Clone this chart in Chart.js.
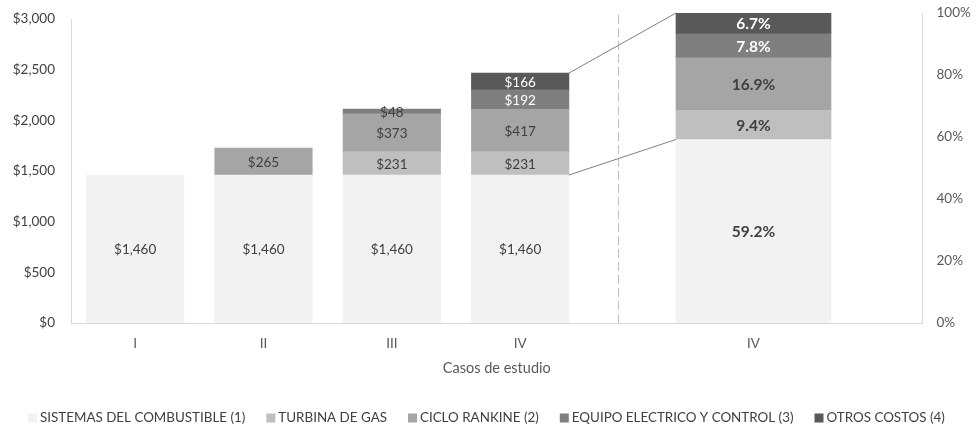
<!DOCTYPE html>
<html>
<head>
<meta charset="utf-8">
<script src="https://cdn.jsdelivr.net/npm/chart.js@4.4.1/dist/chart.umd.min.js"></script>
<style>
  html, body { margin: 0; padding: 0; background: #ffffff; }
  #wrap { width: 977px; height: 430px; }
</style>
</head>
<body>
<div id="wrap"><canvas id="c" width="977" height="430"></canvas></div>
<script>
// ---- data ----
const categories = ['I', 'II', 'III', 'IV'];
const detailCategory = 'IV';
const seriesNames = [
  'SISTEMAS DEL COMBUSTIBLE (1)',
  'TURBINA DE GAS',
  'CICLO RANKINE (2)',
  'EQUIPO ELECTRICO Y CONTROL (3)',
  'OTROS COSTOS (4)'
];
const combustible = [1460, 1460, 1460, 1460];
const turbina     = [null, null, 231, 231];
const rankine     = [null, 265, 373, 417];
const equipo      = [null, null, 48, 192];
const otros       = [null, null, null, 166];
const shareIV     = [59.2, 9.4, 16.9, 7.8, 6.7];   // % breakdown of case IV
const costTicks   = [0, 500, 1000, 1500, 2000, 2500, 3000];
const shareTicks  = [0, 20, 40, 60, 80, 100];
const axisTitle   = 'Casos de estudio';

// ---- layout & style ----
const FONT = 'Lato, "Open Sans", sans-serif';
const seriesColors = ['#f2f2f2', '#bfbfbf', '#a5a5a5', '#7f7f7f', '#595959'];
const labelColors  = ['#404040', '#404040', '#404040', '#ffffff', '#ffffff'];
const slotX    = [1, 2, 3, 4];     // positions of the case bars on the x scale
const detailX  = 5.818;            // position of the percentage bar
const dividerX = 4.759;            // dashed separator
const X_MIN = 0.5, X_MAX = 7.135;
const COST_MAX = 3059;

const costSeries = [combustible, turbina, rankine, equipo, otros];
const datasets = [];
costSeries.forEach((vals, s) => {
  datasets.push({
    label: seriesNames[s], kind: 'cost', series: s,
    data: vals.map((v, i) => ({ x: slotX[i], y: v })),
    backgroundColor: seriesColors[s],
    xAxisID: 'x', yAxisID: 'y', stack: 'all',
    barThickness: 97.5, borderWidth: 0
  });
});
shareIV.forEach((v, s) => {
  datasets.push({
    label: seriesNames[s], kind: 'share', series: s,
    data: [{ x: detailX, y: v }],
    backgroundColor: seriesColors[s],
    xAxisID: 'x', yAxisID: 'y2', stack: 'all',
    barThickness: 155, borderWidth: 0
  });
});

const fmtCost = v => '$' + v.toLocaleString('en-US');
const fmtShare = v => v.toFixed(1) + '%';

// separator + connector lines between case IV and its breakdown
const guidePlugin = {
  id: 'guides',
  afterDatasetsDraw(chart) {
    const { ctx, chartArea, scales } = chart;
    const xs = scales.x.getPixelForValue(dividerX);
    ctx.save();
    ctx.strokeStyle = '#bfbfbf';
    ctx.lineWidth = 1;
    ctx.setLineDash([9, 4]);
    ctx.beginPath();
    ctx.moveTo(Math.round(xs) + 0.5, chartArea.top + 2);
    ctx.lineTo(Math.round(xs) + 0.5, chartArea.bottom);
    ctx.stroke();
    ctx.setLineDash([]);

    // left cost axis line, up to the top tick
    const yScale = scales.y;
    ctx.strokeStyle = '#d9d9d9';
    ctx.beginPath();
    ctx.moveTo(chartArea.left + 0.5, yScale.getPixelForValue(costTicks[costTicks.length - 1]));
    ctx.lineTo(chartArea.left + 0.5, chartArea.bottom);
    ctx.stroke();

    const last = slotX.length - 1;
    const topCost = chart.getDatasetMeta(4).data[last];
    const baseCost = chart.getDatasetMeta(0).data[last];
    const topShare = chart.getDatasetMeta(9).data[0];
    const baseShare = chart.getDatasetMeta(5).data[0];
    ctx.strokeStyle = '#7f7f7f';
    ctx.lineWidth = 1;
    ctx.beginPath();
    ctx.moveTo(topCost.x + topCost.width / 2, topCost.y);
    ctx.lineTo(topShare.x - topShare.width / 2, topShare.y);
    ctx.moveTo(baseCost.x + baseCost.width / 2, baseCost.y);
    ctx.lineTo(baseShare.x - baseShare.width / 2, baseShare.y);
    ctx.stroke();
    ctx.restore();
  }
};

// values written in the middle of each segment
const valueLabelPlugin = {
  id: 'valueLabels',
  afterDatasetsDraw(chart) {
    const { ctx } = chart;
    ctx.save();
    ctx.textAlign = 'center';
    ctx.textBaseline = 'middle';
    chart.data.datasets.forEach((ds, i) => {
      const meta = chart.getDatasetMeta(i);
      meta.data.forEach((el, j) => {
        const v = ds.data[j].y;
        if (v === null || v === undefined) return;
        const h = Math.abs(el.base - el.y);
        const cy = (el.y + el.base) / 2;
        // labels that spill out of a thin segment stay dark so they read on white
        ctx.fillStyle = h < 12 ? '#404040' : labelColors[ds.series];
        if (ds.kind === 'cost') {
          ctx.font = '13.5px ' + FONT;
          ctx.fillText(fmtCost(v), el.x, cy + 1);
        } else {
          ctx.font = 'bold 15.5px ' + FONT;
          ctx.fillText(fmtShare(v), el.x, cy + 1);
        }
      });
    });
    ctx.restore();
  }
};

// legend row along the bottom
const legendPlugin = {
  id: 'bottomLegend',
  afterDraw(chart) {
    const { ctx } = chart;
    const box = 9, gapBox = 3, gapItem = 21, cy = 418;
    ctx.save();
    ctx.font = '13.4px ' + FONT;
    ctx.textBaseline = 'middle';
    ctx.textAlign = 'left';
    const widths = seriesNames.map(n => ctx.measureText(n).width);
    const total = widths.reduce((a, w) => a + box + gapBox + w, 0) + gapItem * (seriesNames.length - 1);
    let x = 486.5 - total / 2;
    seriesNames.forEach((n, i) => {
      ctx.fillStyle = seriesColors[i];
      ctx.fillRect(x, cy - box / 2, box, box);
      x += box + gapBox;
      ctx.fillStyle = '#404040';
      ctx.fillText(n, x, cy);
      x += widths[i] + gapItem;
    });
    ctx.restore();
  }
};

// vertical axes: fixed widths and no extra label margin above/below the plot
const fitVertical = w => s => { s.width = w; s.paddingTop = 0; s.paddingBottom = 0; };

new Chart(document.getElementById('c'), {
  type: 'bar',
  data: { datasets },
  options: {
    responsive: false,
    devicePixelRatio: 1,
    animation: false,
    layout: { padding: { top: 13, bottom: 52.6, left: 0, right: 0 } },
    plugins: { legend: { display: false }, tooltip: { enabled: false } },
    scales: {
      x: {
        type: 'linear', position: 'bottom', min: X_MIN, max: X_MAX, offset: false,
        stacked: true,
        grid: { display: false, drawTicks: false, offset: false },
        border: { display: true, color: '#d9d9d9', width: 1 },
        afterBuildTicks: s => { s.ticks = slotX.concat([detailX]).map(v => ({ value: v })); },
        afterFit: s => { s.height = 54.4; s.paddingLeft = 0; s.paddingRight = 0; },
        ticks: {
          autoSkip: false, maxRotation: 0, padding: 13,
          color: '#595959', font: { family: FONT, size: 13.5 },
          callback: (v, i) => (i < categories.length ? categories[i] : detailCategory)
        },
        title: {
          display: true, text: axisTitle, color: '#595959',
          font: { family: FONT, size: 14.5 }, padding: { top: 0, bottom: 0 }
        }
      },
      y: {
        type: 'linear', position: 'left', min: 0, max: COST_MAX, stacked: true, bounds: 'data',
        grid: { display: false, drawTicks: false },
        border: { display: false },
        afterBuildTicks: s => { s.ticks = costTicks.map(v => ({ value: v })); },
        afterFit: fitVertical(71),
        ticks: {
          padding: 16, color: '#404040', font: { family: FONT, size: 13.5 },
          callback: v => fmtCost(v)
        }
      },
      y2: {
        type: 'linear', position: 'right', min: 0, max: 100, stacked: true, bounds: 'data',
        grid: { display: false, drawTicks: false },
        border: { display: true, color: '#d9d9d9', width: 1 },
        afterBuildTicks: s => { s.ticks = shareTicks.map(v => ({ value: v })); },
        afterFit: fitVertical(54.5),
        ticks: {
          padding: 14, color: '#595959', font: { family: FONT, size: 13.5 },
          callback: v => v + '%'
        }
      }
    }
  },
  plugins: [guidePlugin, valueLabelPlugin, legendPlugin]
});
</script>
</body>
</html>
